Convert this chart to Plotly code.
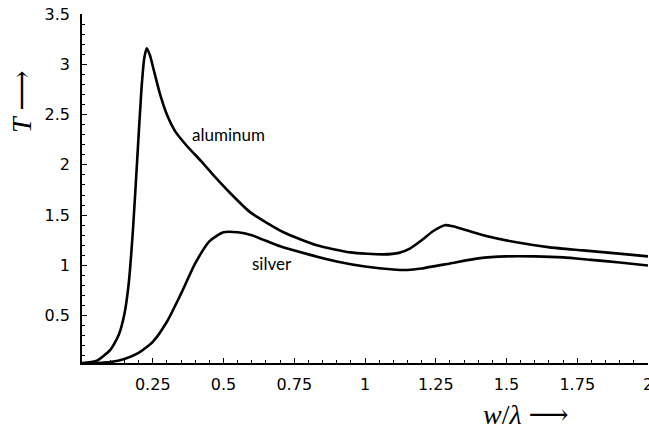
import plotly.graph_objects as go

# Aluminum curve
al_x = [0.0, 0.05, 0.1, 0.13, 0.15, 0.165, 0.18, 0.195, 0.21, 0.22, 0.229, 0.24, 0.253, 0.276,
        0.3, 0.33, 0.37, 0.42, 0.47, 0.52, 0.594, 0.712, 0.83, 0.947, 1.065, 1.12, 1.16, 1.2, 1.24,
        1.282, 1.31, 1.359, 1.418, 1.535, 1.653, 1.77, 1.888, 2.0]
al_y = [0.03, 0.05, 0.16, 0.31, 0.52, 0.82, 1.35, 2.05, 2.75, 3.06, 3.16, 3.09, 2.95, 2.70,
        2.50, 2.33, 2.19, 2.04, 1.88, 1.73, 1.53, 1.33, 1.20, 1.13, 1.11, 1.125, 1.17, 1.25, 1.34,
        1.40, 1.39, 1.35, 1.30, 1.23, 1.18, 1.15, 1.12, 1.09]

# Silver curve
ag_x = [0.0, 0.1, 0.15, 0.2, 0.25, 0.3, 0.35, 0.4, 0.45, 0.5, 0.55, 0.6, 0.7, 0.8, 0.9,
        1.0, 1.1, 1.15, 1.2, 1.3, 1.4, 1.5, 1.6, 1.7, 1.8, 1.9, 2.0]
ag_y = [0.02, 0.04, 0.07, 0.13, 0.24, 0.44, 0.72, 1.02, 1.24, 1.33, 1.33, 1.30, 1.19, 1.11, 1.04,
        0.99, 0.96, 0.955, 0.97, 1.02, 1.07, 1.09, 1.09, 1.08, 1.055, 1.03, 1.0]

x_ticks = [0.25, 0.5, 0.75, 1, 1.25, 1.5, 1.75, 2]
x_tick_text = ["0.25", "0.5", "0.75", "1", "1.25", "1.5", "1.75", "2"]
y_ticks = [0.5, 1, 1.5, 2, 2.5, 3, 3.5]
y_tick_text = ["0.5", "1", "1.5", "2", "2.5", "3", "3.5"]

fig = go.Figure()
line = dict(color="black", width=2.6, shape="spline", smoothing=0.6)
fig.add_trace(go.Scatter(x=al_x, y=al_y, mode="lines", line=line, name="aluminum"))
fig.add_trace(go.Scatter(x=ag_x, y=ag_y, mode="lines", line=line, name="silver"))

label_font = dict(family="Lato, Noto Sans, sans-serif", size=17, color="black")
fig.add_annotation(x=0.516, y=2.3, text="aluminum", showarrow=False, font=label_font)
fig.add_annotation(x=0.673, y=1.015, text="silver", showarrow=False, font=label_font)

title_font = dict(family="Liberation Serif, DejaVu Serif, serif", size=28, color="black")
fig.add_annotation(xref="paper", yref="paper", x=0.784, y=-0.147, text="<i>w</i>/<i>λ</i> ⟶",
                   showarrow=False, font=title_font, xanchor="center", yanchor="middle")
fig.add_annotation(xref="paper", yref="paper", x=-0.108, y=0.75, text="<i>T</i> ⟶",
                   showarrow=False, font=title_font, textangle=-90, xanchor="center", yanchor="middle")

tick_font = dict(family="DejaVu Sans, sans-serif", size=16, color="black")
fig.update_xaxes(range=[0, 2], tickvals=x_ticks, ticktext=x_tick_text, ticks="inside",
                 ticklen=5, tickwidth=1, tickcolor="black", showline=True, linecolor="black",
                 linewidth=1.5, showgrid=False, zeroline=False, tickfont=tick_font,
                 ticklabelstandoff=6, ticklabeloverflow="allow", automargin=False,
                 minor=dict(ticks="inside", ticklen=3, dtick=0.05, tick0=0, tickcolor="black", showgrid=False))
fig.update_yaxes(range=[0.03, 3.5], tickvals=y_ticks, ticktext=y_tick_text, ticks="inside",
                 ticklen=5, tickwidth=1, tickcolor="black", showline=True, linecolor="black",
                 linewidth=1.5, showgrid=False, zeroline=False, tickfont=tick_font,
                 ticklabelstandoff=7, ticklabeloverflow="allow", automargin=False,
                 minor=dict(ticks="inside", ticklen=3, dtick=0.1, tick0=0, tickcolor="black", showgrid=False))

fig.update_layout(width=649, height=430, margin=dict(l=82, r=1, t=14, b=67),
                  plot_bgcolor="white", paper_bgcolor="white", showlegend=False)

fig.write_html("out.html", config={"displayModeBar": False},
               post_script="document.body.style.margin='0';")
